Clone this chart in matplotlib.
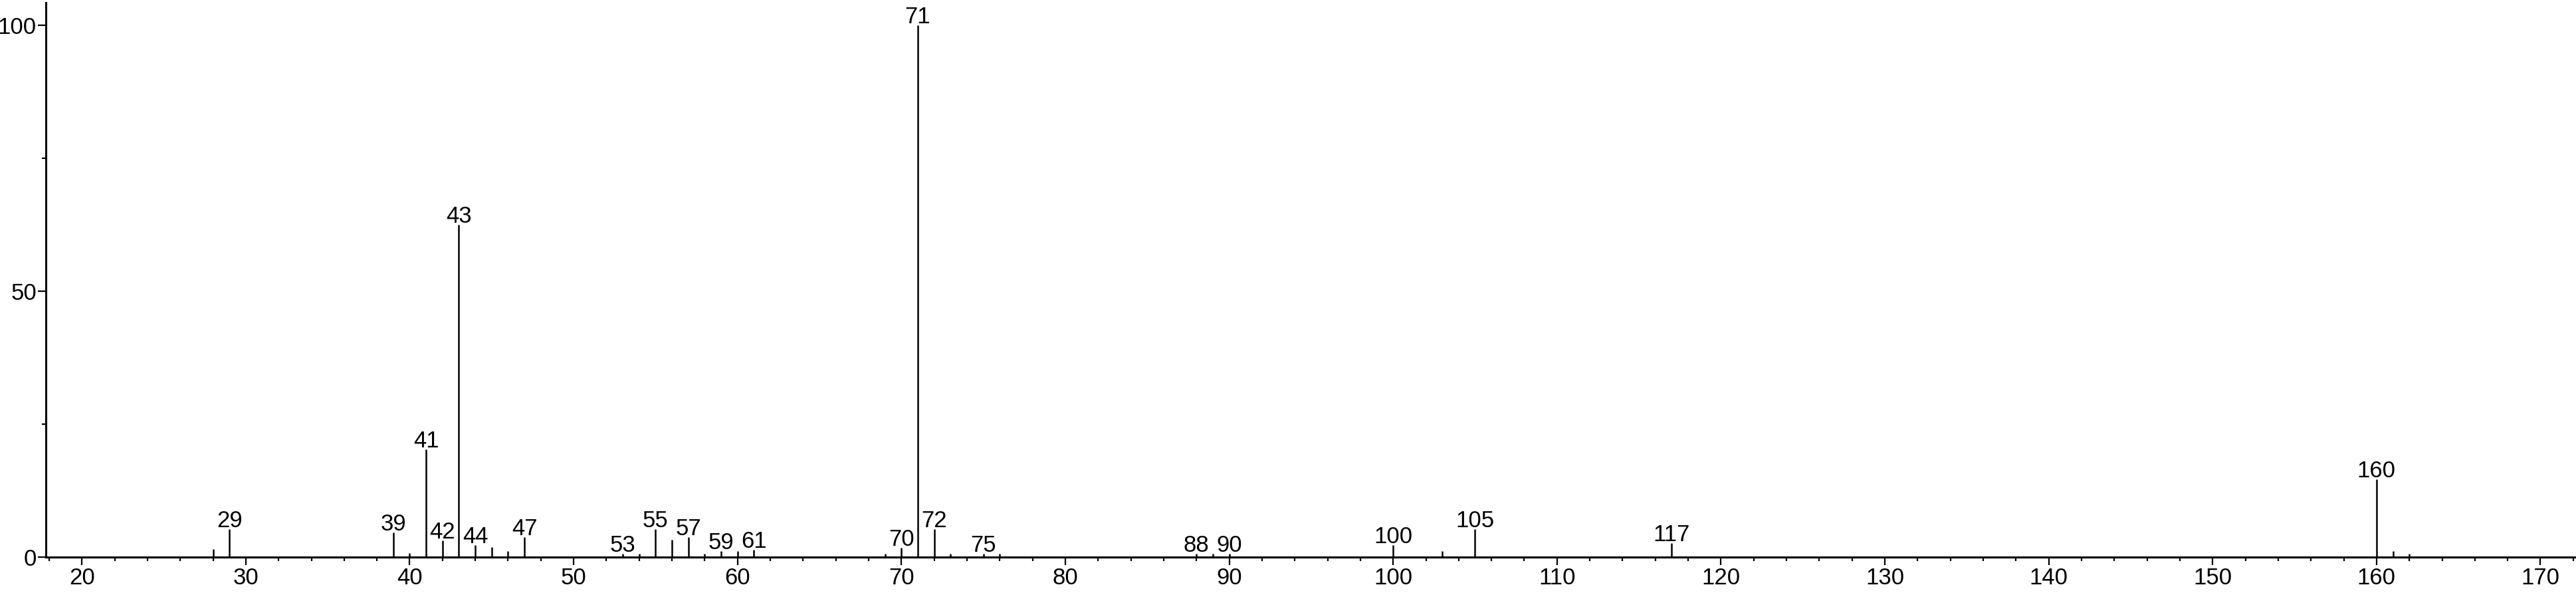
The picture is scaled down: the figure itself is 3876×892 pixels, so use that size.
import matplotlib
matplotlib.use("Agg")
import matplotlib.pyplot as plt
from matplotlib.ticker import MultipleLocator

plt.rcParams['font.family'] = ['Liberation Sans', 'DejaVu Sans']

# m/z values and relative intensities
mz = [28, 29, 39, 40, 41, 42, 43, 44, 45, 46, 47, 53, 54, 55, 56, 57, 58, 59,
      60, 61, 69, 70, 71, 72, 73, 75, 76, 88, 89, 90, 100, 103, 105, 117,
      160, 161, 162]
intensity = [1.45, 5.25, 4.6, 0.7, 20.2, 3.1, 62.5, 2.3, 1.9, 1.1, 3.8, 0.6,
             0.6, 5.25, 3.3, 3.75, 0.6, 1.1, 1.1, 1.4, 0.6, 1.75, 100, 5.25,
             0.6, 0.6, 0.6, 0.6, 0.6, 0.6, 2.2, 1.1, 5.25, 2.6, 14.6, 1.1, 0.6]
labeled = [29, 39, 41, 42, 43, 44, 47, 53, 55, 57, 59, 61, 70, 71, 72, 75,
           88, 90, 100, 105, 117, 160]

W, H, DPI = 3876, 892, 100
fig = plt.figure(figsize=(W / DPI, H / DPI), dpi=DPI)
ax = fig.add_axes([69 / W, 54 / H, 1 - 69 / W, (838 - 4) / H])

ax.vlines(mz, 0, intensity, color='black', lw=1.8, zorder=3)
lookup = dict(zip(mz, intensity))
for m in labeled:
    ax.annotate(str(m), xy=(m, lookup[m]), xytext=(0, 2.2),
                textcoords='offset points', ha='center', va='baseline',
                fontsize=25, color='black')

ax.set_xlim(17.80, 172.17)
ax.set_ylim(0, 104.25)

for s in ['top', 'right']:
    ax.spines[s].set_visible(False)
for s in ['left', 'bottom']:
    ax.spines[s].set_linewidth(2.2)
    ax.spines[s].set_color('black')

ax.xaxis.set_major_locator(MultipleLocator(10))
ax.xaxis.set_minor_locator(MultipleLocator(2))
ax.yaxis.set_major_locator(MultipleLocator(50))
ax.yaxis.set_minor_locator(MultipleLocator(25))

ax.tick_params(axis='both', which='major', direction='out', length=8.6,
               width=1.6, labelsize=25, colors='black')
ax.tick_params(axis='both', which='minor', direction='out', length=4.3,
               width=1.6)
ax.tick_params(axis='x', which='major', pad=2.5)
ax.tick_params(axis='y', which='major', pad=1.5)

fig.savefig('out.png', dpi=DPI, facecolor='white')
